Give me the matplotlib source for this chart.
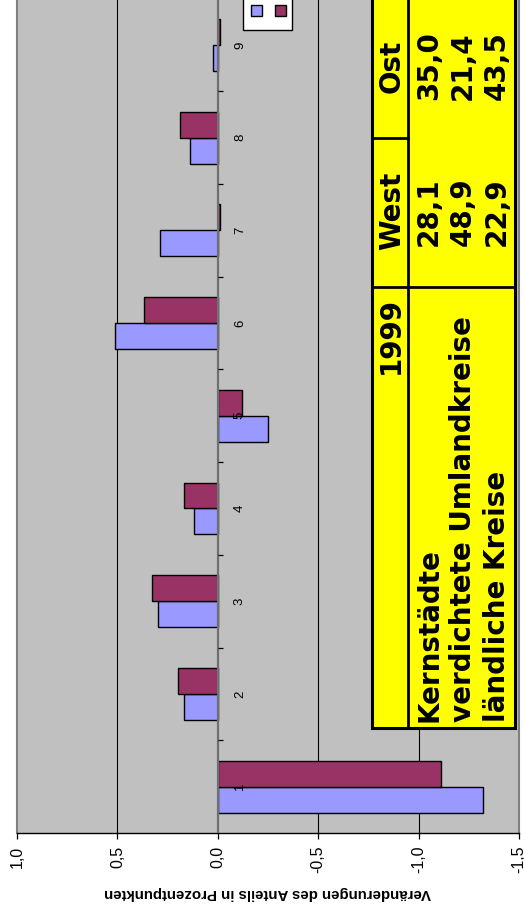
import matplotlib
matplotlib.use("Agg")
import matplotlib.pyplot as plt
from matplotlib.patches import Rectangle
from matplotlib.lines import Line2D
from matplotlib.ticker import FuncFormatter

# --- data -------------------------------------------------------------
categories = ["1", "2", "3", "4", "5", "6", "7", "8", "9"]
west = [-1.32, 0.17, 0.30, 0.12, -0.25, 0.51, 0.29, 0.14, 0.025]
ost = [-1.11, 0.20, 0.33, 0.17, -0.12, 0.37, -0.01, 0.19, -0.01]
series_names = ["West", "Ost"]
value_ticks = [1.0, 0.5, 0.0, -0.5, -1.0, -1.5]
axis_title = "Veränderungen des Anteils in Prozentpunkten"

table_year = "1999"
table_rows = ["Kernstädte", "verdichtete Umlandkreise", "ländliche Kreise"]
table_west = ["28,1", "48,9", "22,9"]
table_ost = ["35,0", "21,4", "43,5"]

# --- style ------------------------------------------------------------
W, H = 524, 906
c_west = "#9999FF"
c_ost = "#993366"
plot_bg = "#C0C0C0"

fig = plt.figure(figsize=(W / 100, H / 100), dpi=100)
fig.patch.set_facecolor("white")


def fx(px):
    return px / W


def fy(py):
    return 1 - py / H


ax = fig.add_axes([fx(17), fy(833), fx(519) - fx(17), (833 + 1.5) / H])
ax.set_facecolor(plot_bg)

pos = list(range(1, len(categories) + 1))
bh = 0.28
ax.barh([p - bh / 2 for p in pos], west, height=bh, color=c_west,
        edgecolor="black", linewidth=1.0, zorder=3)
ax.barh([p + bh / 2 for p in pos], ost, height=bh, color=c_ost,
        edgecolor="black", linewidth=1.0, zorder=3)

ax.set_xlim(value_ticks[0], value_ticks[-1])
ax.set_ylim(0.5, len(categories) + 0.5)

# value gridlines and the category axis at zero
for v in value_ticks[1:-1]:
    if v == 0:
        ax.axvline(v, color="#707070", lw=1.6, zorder=4)
    else:
        ax.axvline(v, color="black", lw=0.8, zorder=1)

# small category tick marks on the zero axis
for b in range(1, len(categories)):
    ax.plot([0, -0.027], [b + 0.5, b + 0.5], color="black", lw=0.9,
            zorder=4, solid_capstyle="butt")

# category labels next to the zero axis
for p, lab in zip(pos, categories):
    ax.text(-0.11, p, lab, rotation=90, ha="center", va="center",
            fontsize=9.5, family="Liberation Sans", zorder=5)

ax.set_xticks(value_ticks)
ax.xaxis.set_major_formatter(FuncFormatter(lambda v, _: f"{v:.1f}".replace(".", ",")))
ax.tick_params(axis="x", direction="out", length=4, width=0.9, pad=5,
               labelsize=11.5, labelrotation=90, colors="black")
for t in ax.get_xticklabels():
    t.set_family("Liberation Sans")
ax.set_yticks([])

ax.set_xlabel(axis_title, rotation=180, fontsize=10.8, fontweight="bold",
              family="Liberation Sans", labelpad=9)

for s in ["left", "right"]:
    ax.spines[s].set_color("#808080")
    ax.spines[s].set_linewidth(1.5)
ax.spines["top"].set_visible(False)
ax.spines["bottom"].set_color("black")
ax.spines["bottom"].set_linewidth(1.0)

# --- legend box (partly beyond the top edge) --------------------------
fig.patches.append(Rectangle((fx(243), fy(30)), fx(292) - fx(243), fy(-20) - fy(30),
                             transform=fig.transFigure, facecolor="white",
                             edgecolor="black", lw=1.0, zorder=10))
for x0, col in [(251, c_west), (275, c_ost)]:
    fig.patches.append(Rectangle((fx(x0), fy(16)), fx(11), fy(5) - fy(16),
                                 transform=fig.transFigure, facecolor=col,
                                 edgecolor="black", lw=1.0, zorder=11))

# --- data table box ---------------------------------------------------
fig.patches.append(Rectangle((fx(372), fy(728)), fx(515) - fx(372), fy(-20) - fy(728),
                             transform=fig.transFigure, facecolor="#FFFF00",
                             edgecolor="black", lw=2.2, zorder=10))
line_kw = dict(transform=fig.transFigure, color="black", lw=2.0, zorder=11)
fig.lines.append(Line2D([fx(408), fx(408)], [fy(-20), fy(728)], **line_kw))
fig.lines.append(Line2D([fx(372), fx(515)], [fy(287), fy(287)], **line_kw))
fig.lines.append(Line2D([fx(372), fx(408)], [fy(138), fy(138)], **line_kw))

tkw = dict(transform=fig.transFigure, rotation=90, rotation_mode="anchor",
           va="baseline", fontsize=20, fontweight="bold",
           family="DejaVu Sans", zorder=12)
fig.text(fx(399), fy(297), table_year, ha="right", **tkw)
fig.text(fx(400), fy(211), series_names[0], ha="center", **tkw)
fig.text(fx(400), fy(66), series_names[1], ha="center", **tkw)

baselines = [437, 471, 505]
for bx, lab, w, o in zip(baselines, table_rows, table_west, table_ost):
    fig.text(fx(bx), fy(722), lab, ha="left", **tkw)
    fig.text(fx(bx), fy(212), w, ha="center", **tkw)
    fig.text(fx(bx), fy(66), o, ha="center", **tkw)

fig.savefig("out.png", dpi=100)
